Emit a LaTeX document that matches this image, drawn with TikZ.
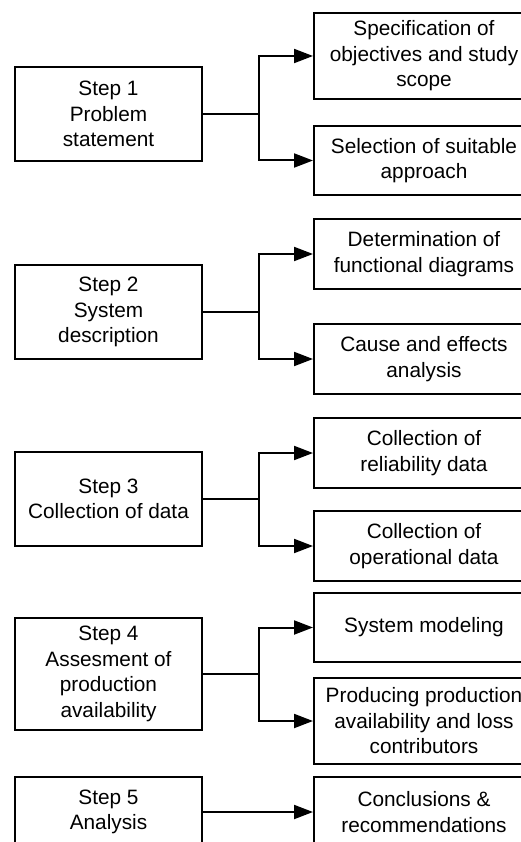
\documentclass[tikz,border=0pt]{standalone}
\usepackage{fontspec}
\setmainfont{Liberation Sans}
\usetikzlibrary{arrows.meta}

\begin{document}
\begin{tikzpicture}[x=1pt, y=-1pt,
  box/.style={draw, line width=2pt, anchor=north west, inner sep=0pt,
    align=center, font=\fontsize{20.8}{25.5}\selectfont},
  stepbox/.style={box, minimum width=187pt},
  taskbox/.style={box, minimum width=220pt},
  link/.style={line width=2pt},
  flow/.style={link, -{Triangle[length=19pt, width=14pt]}}
]
\useasboundingbox (0,0) rectangle (520,842);

% Step boxes (left column)
\node[stepbox, minimum height=94pt]  (s1) at (14,66)  {Step 1\\Problem\\statement};
\node[stepbox, minimum height=94pt]  (s2) at (14,264) {Step 2\\System\\description};
\node[stepbox, minimum height=94pt]  (s3) at (14,451) {Step 3\\Collection of data};
\node[stepbox, minimum height=112pt] (s4) at (14,617) {Step 4\\Assesment of\\production\\availability};
\node[stepbox, minimum height=70pt]  (s5) at (14,776) {Step 5\\Analysis};

% Task boxes (right column)
\node[taskbox, minimum height=86pt] (t1a) at (313,12)  {Specification of\\objectives and study\\scope};
\node[taskbox, minimum height=69pt] (t1b) at (313,125) {Selection of suitable\\approach};
\node[taskbox, minimum height=70pt] (t2a) at (313,218) {Determination of\\functional diagrams};
\node[taskbox, minimum height=70pt] (t2b) at (313,323) {Cause and effects\\analysis};
\node[taskbox, minimum height=70pt] (t3a) at (313,417) {Collection of\\reliability data};
\node[taskbox, minimum height=70pt] (t3b) at (313,510) {Collection of\\operational data};
\node[taskbox, minimum height=69pt] (t4a) at (313,592) {System modeling};
\node[taskbox, minimum height=86pt] (t4b) at (313,677) {Producing production\\availability and loss\\contributors};
\node[taskbox, minimum height=70pt] (t5)  at (313,776) {Conclusions \&\\recommendations};

% Branching connectors
\foreach \s/\a/\b in {s1/t1a/t1b, s2/t2a/t2b, s3/t3a/t3b, s4/t4a/t4b} {
  \draw[link] (\s.east) -- ++(56,0) coordinate (j\s);
  \draw[flow] (j\s) |- (\a.west);
  \draw[flow] (j\s) |- (\b.west);
}
\draw[flow] (s5.east) -- (t5.west);
\end{tikzpicture}
\end{document}
